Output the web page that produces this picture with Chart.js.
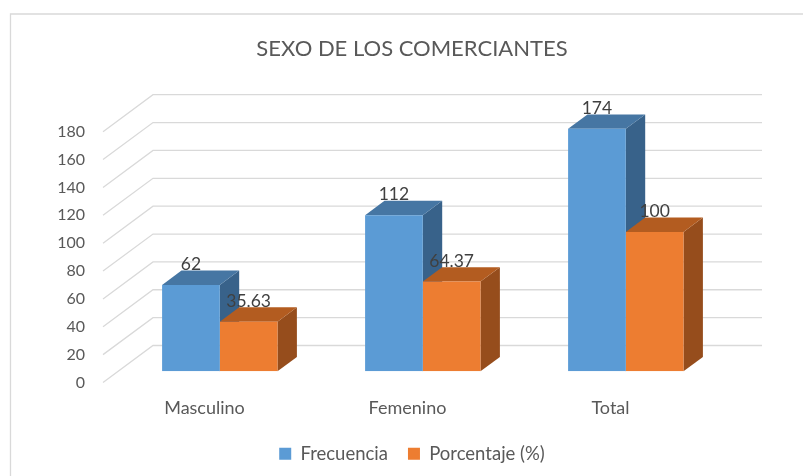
<!DOCTYPE html>
<html>
<head>
<meta charset="utf-8">
<style>
html,body{margin:0;padding:0;background:#fff;}
#wrap{position:relative;width:803px;height:476px;}
canvas{display:block;}
</style>
<script src="https://cdn.jsdelivr.net/npm/chart.js@4"></script>
</head>
<body>
<div id="wrap"><canvas id="c" width="803" height="476"></canvas></div>
<script>
const categories = ['Masculino', 'Femenino', 'Total'];
const frecuencia = [62, 112, 174];
const porcentaje = [35.63, 64.37, 100];
const labelsFrecuencia = ['62', '112', '174'];
const labelsPorcentaje = ['35.63', '64.37', '100'];
const seriesNames = ['Frecuencia', 'Porcentaje (%)'];
const titleText = 'SEXO DE LOS COMERCIANTES';
const FONT = 'Lato, Carlito, sans-serif';

// 3D projection settings
const WALL = {dx: 50, dy: -37};
const GAP = {dx: 15.3, dy: -11.2};
const BAR = {dx: 19.4, dy: -14.4};
const LABEL_LIFT = 20.5;
const shades = [{top: '#4676A3', side: '#38628A'}, {top: '#B35C20', side: '#964D1C'}];
const texts = [labelsFrecuencia, labelsPorcentaje];

const frame3d = {
  id: 'frame3d',
  beforeDraw(chart) {
    const {ctx, width, height} = chart;
    ctx.save();
    ctx.strokeStyle = '#D9D9D9';
    ctx.lineWidth = 1.3;
    ctx.beginPath();
    ctx.moveTo(10.5, height);
    ctx.lineTo(10.5, 14);
    ctx.lineTo(width, 14);
    ctx.stroke();
    ctx.restore();
  },
  beforeDatasetsDraw(chart) {
    const {ctx, chartArea, scales} = chart;
    ctx.save();
    ctx.strokeStyle = '#D9D9D9';
    ctx.lineWidth = 1.3;
    scales.y.ticks.forEach(t => {
      const y = scales.y.getPixelForValue(t.value);
      ctx.beginPath();
      ctx.moveTo(chartArea.left, y);
      ctx.lineTo(chartArea.left + WALL.dx, y + WALL.dy);
      ctx.lineTo(chartArea.right + WALL.dx, y + WALL.dy);
      ctx.stroke();
    });
    ctx.restore();
    ctx.save();
    ctx.translate(GAP.dx, GAP.dy);
    [0, 1].forEach(d => {
      chart.getDatasetMeta(d).data.forEach(el => {
        const {x, y, base, width} = el.getProps(['x', 'y', 'base', 'width'], true);
        const l = x - width / 2, r = x + width / 2;
        ctx.fillStyle = shades[d].side;
        ctx.beginPath();
        ctx.moveTo(r, y); ctx.lineTo(r + BAR.dx, y + BAR.dy);
        ctx.lineTo(r + BAR.dx, base + BAR.dy); ctx.lineTo(r, base);
        ctx.closePath(); ctx.fill();
        ctx.fillStyle = shades[d].top;
        ctx.beginPath();
        ctx.moveTo(l, y); ctx.lineTo(l + BAR.dx, y + BAR.dy);
        ctx.lineTo(r + BAR.dx, y + BAR.dy); ctx.lineTo(r, y);
        ctx.closePath(); ctx.fill();
      });
    });
  },
  afterDatasetsDraw(chart) {
    const {ctx} = chart;
    ctx.restore();
    ctx.save();
    ctx.fillStyle = '#404040';
    ctx.font = '17.5px ' + FONT;
    ctx.textAlign = 'center';
    ctx.textBaseline = 'middle';
    [0, 1].forEach(d => {
      chart.getDatasetMeta(d).data.forEach((el, i) => {
        ctx.fillText(texts[d][i], el.x + GAP.dx, el.y + GAP.dy - LABEL_LIFT);
      });
    });
    ctx.restore();
  }
};

new Chart(document.getElementById('c'), {
  type: 'bar',
  plugins: [frame3d],
  data: {
    labels: categories,
    datasets: [
      {label: seriesNames[0], data: frecuencia, backgroundColor: '#5B9BD5', yAxisID: 'y'},
      {label: seriesNames[1], data: porcentaje, backgroundColor: '#ED7D31', yAxisID: 'y'}
    ]
  },
  options: {
    responsive: false,
    animation: false,
    layout: {padding: {left: 40, right: 19, top: 36, bottom: 3}},
    datasets: {bar: {barPercentage: 1, categoryPercentage: 0.5685}},
    plugins: {
      title: {
        display: true, text: titleText, color: '#595959',
        font: {family: FONT, size: 22, weight: 'normal'},
        padding: {top: 0, bottom: 69.3}
      },
      legend: {
        position: 'bottom',
        labels: {color: '#595959', boxWidth: 12, boxHeight: 12, padding: 20,
                 font: {family: FONT, size: 18.5}}
      },
      tooltip: {enabled: false}
    },
    scales: {
      x: {
        afterFit(s) { s.height = 42; },
        grid: {display: false, drawTicks: false},
        border: {display: false},
        ticks: {color: '#595959', font: {family: FONT, size: 18}, padding: 15}
      },
      y: {
        min: 0, max: 180,
        afterFit(s) { s.width = 63; },
        grid: {display: false, drawTicks: false},
        border: {display: false},
        ticks: {stepSize: 20, color: '#595959', padding: 18, font: {family: FONT, size: 16}}
      },
      spacer: {
        axis: 'y', position: 'right',
        afterFit(s) { s.width = 72; },
        grid: {display: false, drawTicks: false},
        border: {display: false},
        ticks: {display: false}
      }
    }
  }
});
</script>
</body>
</html>
